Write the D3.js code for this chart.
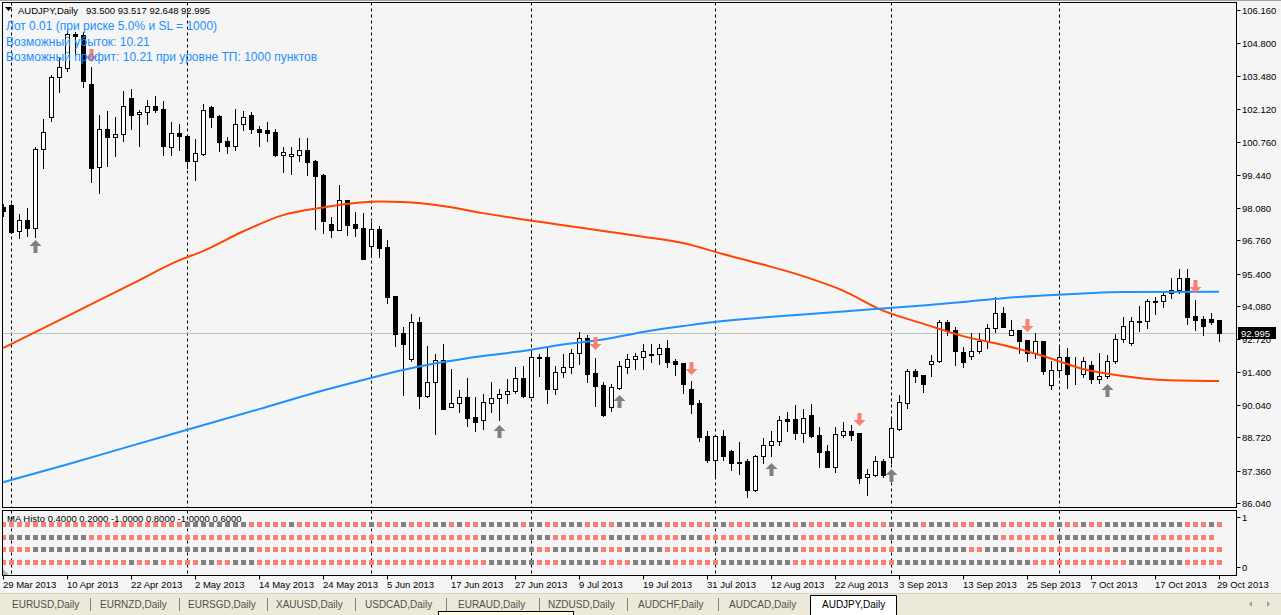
<!DOCTYPE html>
<html>
<head>
<meta charset="utf-8">
<script src="https://cdn.jsdelivr.net/npm/d3@7"></script>
<style>
    body { margin: 0; background: #f5f5f5; overflow: hidden; }
    svg text { font-family: "Liberation Sans", Arial, sans-serif; }
    .tahoma { font-size: 9.5px; }
</style>
</head>
<body>
<svg id="chart" width="1281" height="615"></svg>
<script>
// ---- data ----
const symbolTitle = "AUDJPY,Daily";
const lastQuote = "93.500 93.517 92.648 92.995";
const infoLines = [
    "Лот 0.01 (при риске 5.0% и SL = 1000)",
    "Возможный убыток: 10.21",
    "Возможный профит: 10.21 при уровне ТП: 1000 пунктов"
];

// one bar per trading day, 29 Mar 2013 .. 29 Oct 2013
const openPrices = [98.12,98.20,97.13,97.57,97.27,100.50,101.80,103.41,103.81,105.18,105.14,103.14,99.74,101.29,100.99,101.09,102.56,101.90,101.98,102.23,
    102.11,100.56,101.13,101.00,100.01,100.29,102.20,101.83,100.81,100.62,101.49,101.87,101.30,101.27,101.18,100.25,100.19,100.25,100.44,100.00,
    99.43,97.43,97.19,98.41,97.44,97.27,96.54,97.21,96.49,94.49,92.98,91.93,93.41,90.42,90.96,91.86,89.97,90.11,90.36,89.54,
    89.41,90.11,90.31,90.48,90.60,91.13,90.35,91.97,92.00,90.70,91.37,91.58,92.15,92.77,91.34,90.85,89.97,90.74,91.60,91.90,
    92.01,92.12,92.11,92.36,91.83,91.75,90.69,90.12,88.77,87.80,88.76,88.16,87.72,87.75,86.58,87.94,88.42,88.56,89.45,89.45,
    88.91,89.62,88.80,88.16,87.52,88.83,88.98,88.88,87.09,87.19,87.74,87.93,89.07,90.13,91.43,91.25,91.71,91.82,93.41,93.09,
    92.19,92.03,92.24,92.65,93.17,93.78,92.88,93.12,92.68,92.15,92.64,90.85,91.45,92.01,91.59,91.29,91.67,91.10,91.22,91.85,
    92.72,92.58,93.44,93.45,94.24,94.27,94.60,94.72,95.21,93.67,93.54,93.54,93.500];
const highPrices = [98.24,98.24,97.83,98.07,100.56,101.70,103.51,104.20,105.34,105.26,105.26,103.82,101.87,102.04,101.79,102.85,102.94,102.06,102.47,102.64,
    102.43,101.59,101.51,101.02,100.89,102.34,102.24,101.87,100.99,102.11,102.04,101.98,101.42,101.59,101.29,100.56,100.58,100.92,100.93,100.05,
    99.47,97.72,99.02,98.41,97.91,97.89,97.51,97.34,96.77,94.49,93.23,93.75,93.63,92.45,92.12,92.51,91.51,90.65,91.15,90.36,
    90.50,90.98,90.69,91.10,91.60,91.63,92.28,92.12,92.39,91.63,92.11,92.31,93.02,92.88,91.94,90.99,90.88,91.83,92.12,92.15,
    92.53,92.53,92.51,92.69,91.90,91.75,91.02,90.23,88.98,88.77,89.02,88.20,88.51,87.85,87.98,88.70,88.98,89.59,89.75,90.03,
    89.86,90.08,89.13,88.40,89.13,89.34,89.22,88.88,87.41,87.96,87.82,89.54,90.45,91.52,91.52,91.25,92.07,93.50,93.50,93.23,
    92.42,92.96,92.96,93.33,94.43,94.02,93.50,93.12,92.68,92.99,92.64,91.83,92.48,92.35,92.01,92.01,91.83,92.15,92.08,92.94,
    93.62,93.64,94.08,94.36,94.46,94.64,95.21,95.61,95.61,94.32,93.67,93.81,93.517];
const lowPrices = [97.75,97.06,96.87,96.95,96.91,99.72,101.64,102.83,103.67,104.32,103.03,99.15,98.70,99.81,100.22,100.82,101.31,100.62,101.49,102.01,
    100.25,100.25,100.46,99.72,99.22,100.25,101.40,100.42,100.34,100.44,101.26,101.15,100.62,100.82,100.22,99.56,99.47,100.00,99.43,97.23,
    97.07,96.91,97.19,96.99,96.95,96.00,96.09,96.09,94.19,92.46,90.46,91.85,89.92,90.38,88.85,89.87,89.97,89.76,89.19,88.99,
    89.07,89.76,89.43,90.13,90.52,90.38,90.35,91.23,90.11,90.47,91.17,91.33,91.70,90.99,90.01,89.59,89.81,90.68,91.36,91.52,
    91.52,91.79,91.71,91.60,91.26,90.52,89.72,88.58,87.72,87.15,87.79,87.38,87.21,86.29,86.54,87.68,87.97,88.41,88.98,88.66,
    88.54,88.72,87.52,87.52,87.32,88.74,88.61,86.84,86.36,87.14,87.11,87.66,89.03,89.90,90.99,90.58,91.22,91.79,92.88,91.67,
    91.60,91.93,92.17,92.35,93.03,93.21,92.88,92.17,91.85,91.97,91.31,90.68,91.17,90.72,90.88,91.19,90.92,90.92,91.15,91.74,
    92.62,92.49,93.06,93.19,93.74,94.05,94.42,94.60,93.36,93.10,92.89,93.36,92.648];
const closePrices = [97.96,97.11,97.57,97.27,100.47,101.18,103.43,103.82,105.20,105.10,103.27,99.72,101.29,100.99,101.09,102.23,101.89,101.98,102.23,102.09,
    100.62,101.13,101.00,100.01,100.31,102.07,101.80,100.78,100.62,101.49,101.78,101.29,101.19,101.15,100.25,100.35,100.27,100.43,99.97,99.40,
    97.56,97.19,98.41,97.40,97.27,96.01,97.21,96.46,94.46,92.93,92.54,93.41,90.42,90.96,91.86,89.87,90.11,90.35,89.52,89.36,
    90.16,90.31,90.49,90.60,91.13,90.42,91.99,92.01,90.70,91.37,91.58,92.15,92.76,91.31,90.83,89.63,90.76,91.63,91.92,92.04,
    92.24,92.10,92.35,91.79,91.72,90.91,90.09,88.74,87.79,88.76,87.97,87.68,87.68,86.58,87.94,88.39,88.56,89.43,89.40,88.91,
    89.50,88.77,88.13,87.52,88.84,88.96,88.81,87.07,87.22,87.74,87.19,89.09,90.15,91.43,91.23,90.88,91.83,93.41,93.07,92.23,
    91.78,92.24,92.65,93.17,93.78,93.21,93.12,92.66,92.15,92.64,91.41,91.45,92.01,91.29,91.57,91.85,91.09,91.22,91.85,92.72,
    93.25,93.45,93.47,94.27,94.27,94.51,94.72,95.21,93.64,93.52,93.27,93.44,92.995];

// moving averages, sampled at bar indices
const redMaBars = [0, 8, 16, 22, 25, 30, 35, 40, 45, 47, 50, 55, 60, 65, 70, 75, 80, 85, 90, 95, 100, 105, 110, 115, 120, 125, 130, 135, 140, 145, 152];
const redMaValues = [92.36, 93.66, 94.96, 95.94, 96.32, 97.12, 97.79, 98.10, 98.31, 98.34, 98.32, 98.16, 97.87, 97.61, 97.38, 97.14, 96.91, 96.65, 96.20, 95.77,
    95.30, 94.71, 93.89, 93.36, 92.85, 92.49, 92.04, 91.51, 91.22, 91.06, 91.02];
const blueMaBars = [0, 8, 16, 24, 32, 40, 45, 50, 55, 60, 65, 70, 75, 80, 85, 90, 95, 100, 105, 110, 115, 120, 125, 130, 135, 140, 152];
const blueMaValues = [86.89, 87.61, 88.37, 89.12, 89.87, 90.63, 91.06, 91.47, 91.79, 92.04, 92.24, 92.51, 92.71, 93.02, 93.26, 93.47, 93.61, 93.73, 93.86, 93.98,
    94.10, 94.24, 94.40, 94.51, 94.59, 94.65, 94.66];

// signal arrows: bar index and price at the arrow tip
const buyArrowBars = [4, 62, 77, 96, 111, 138];
const buyArrowPrices = [96.77, 89.22, 90.45, 87.68, 87.43, 90.90];
const sellArrowBars = [11, 74, 86, 107, 128, 149];
const sellArrowPrices = [104.04, 92.28, 91.26, 89.19, 93.00, 94.60];

const priceTicks = [106.16, 104.80, 103.48, 102.12, 100.76, 99.44, 98.08, 96.76, 95.40, 94.08, 92.72, 91.40, 90.04, 88.72, 87.36, 86.04];
const dateTickLabels = ["29 Mar 2013", "10 Apr 2013", "22 Apr 2013", "2 May 2013", "14 May 2013", "24 May 2013", "5 Jun 2013", "17 Jun 2013",
    "27 Jun 2013", "9 Jul 2013", "19 Jul 2013", "31 Jul 2013", "12 Aug 2013", "22 Aug 2013", "3 Sep 2013", "13 Sep 2013",
    "25 Sep 2013", "7 Oct 2013", "17 Oct 2013", "29 Oct 2013"];

// MA Histo sub-window: r = salmon, g = gray, one char per bar
const histoTitle = "MA Histo 0.4000 0.2000 -1.0000 0.8000 -1.0000 0.6000";
const histoLevels = [0.86, 0.61, 0.36, 0.11];
const histoRows = [
    "rrrrrrrrrrrrrrrrrrrrrrrggggggggrrrrrgrrrrrrrrrgrrrgrrrggrgrrgggggrggrrgggrrrrggggggrrrrrrggrrrgggggrgrrrggrrrrrggggrgggrrrgggrrrrrrrgrrgrrggggggggggrrrgr",
    "rggggggggggrrrrrrrrrrrrrrrrrrrrrrrrrrrrrrrrrrrrrrrrrrrrrrrrrgggggggggrrrrrrrggggrrrrrgggrrrrrrggggggrrrrrrrrrrgggggggggggggggrrrrrrrggggggggggggrrrrrrrr",
    "rrrrggggggggggggggggggggggggggggrrrrrrrrrrrrrrrrrrrrrrrrrrrrgggggggrrggggggrrrgggggrrrrrrgggggggggggrrrrrrrrrrrrgggggggggrrggggrrrrrrrrrrrrgggggggggrrrrr",
    "rrrrrrrrrrgrrrrrgrrgrrrrrggrrgggrrrrrrrrrrrrrrrrrrrrrrrrrrrrrggggggrrrgggggrrrrgggggrrrrrrgggggggggrrrrrrrrrrrrrgggggggggggggggggrrrrrrrrrrrrgggggggrrrrr"
];

const tabNames = ["EURUSD,Daily", "EURNZD,Daily", "EURSGD,Daily", "XAUUSD,Daily", "USDCAD,Daily",
    "EURAUD,Daily", "NZDUSD,Daily", "AUDCHF,Daily", "AUDCAD,Daily", "AUDJPY,Daily"];

// ---- layout ----
const W = 1281, H = 615;
const frameLeft = 2.5, frameRight = 1236.5;
const mainTop = 2.5, mainBottom = 507.5;
const subTop = 510.5, subBottom = 575.5;
const BULL_FILL = "#ffffff", BEAR_FILL = "#000000";
const RED_MA = "#ff4500", BLUE_MA = "#1e90ff";
const SALMON = "#fa8072", GREY = "#808080";

const dates = d3.timeDays(new Date(2013, 2, 29), new Date(2013, 9, 30)).filter(d => d.getDay() % 6 !== 0);
const fmt = d3.timeFormat("%-d %b %Y");

const bars = openPrices.map((o, i) => ({
    i: i, open: o, high: highPrices[i], low: lowPrices[i], close: closePrices[i]
}));

const x = d3.scaleLinear().domain([0, dates.length - 1]).range([3, 1219]);
const y = d3.scaleLinear().domain([86.04, 106.16]).range([503, 10]);
const ySub = d3.scaleLinear().domain([0, 1]).range([567, 517]);
const px = i => Math.round(x(i));
const py = v => Math.round(y(v));

const svg = d3.select("#chart");

svg.append("rect").attr("width", W).attr("height", H).attr("fill", "#f5f5f5");
svg.append("rect").attr("width", W).attr("height", 1).attr("fill", "#a0a0a0");

const defs = svg.append("defs");
defs.append("clipPath").attr("id", "mainClip")
    .append("rect").attr("x", frameLeft).attr("y", mainTop).attr("width", frameRight - frameLeft).attr("height", mainBottom - mainTop);
defs.append("clipPath").attr("id", "subClip")
    .append("rect").attr("x", frameLeft + 0.5).attr("y", subTop).attr("width", frameRight - frameLeft - 0.5).attr("height", subBottom - subTop);

// period separators (first trading day of each month)
const separatorIdx = dates.map((d, i) => i).filter(i => i > 0 && dates[i].getMonth() !== dates[i - 1].getMonth());

const main = svg.append("g").attr("clip-path", "url(#mainClip)");

main.selectAll("line.sep").data(separatorIdx).enter().append("line")
    .attr("x1", i => px(i) + 0.5).attr("x2", i => px(i) + 0.5)
    .attr("y1", mainTop).attr("y2", mainBottom)
    .attr("stroke", "#000").attr("stroke-dasharray", "3,3");

// last close level
const lastClose = closePrices[closePrices.length - 1];
main.append("line")
    .attr("x1", frameLeft).attr("x2", frameRight)
    .attr("y1", py(lastClose) + 0.5).attr("y2", py(lastClose) + 0.5)
    .attr("stroke", "#c0c0c0");

// candles
const candles = main.selectAll("g.candle").data(bars).enter().append("g").attr("class", "candle");
candles.append("line")
    .attr("x1", d => px(d.i) + 0.5).attr("x2", d => px(d.i) + 0.5)
    .attr("y1", d => py(d.high)).attr("y2", d => py(d.low) + 1)
    .attr("stroke", "#000");
candles.append("rect")
    .attr("x", d => px(d.i) - 1.5)
    .attr("y", d => py(Math.max(d.open, d.close)) + 0.5)
    .attr("width", 4)
    .attr("height", d => Math.max(py(Math.min(d.open, d.close)) - py(Math.max(d.open, d.close)), 0))
    .attr("fill", d => d.close >= d.open ? BULL_FILL : BEAR_FILL)
    .attr("stroke", "#000");

// moving averages
const maLine = d3.line().x(d => x(d[0])).y(d => y(d[1])).curve(d3.curveMonotoneX);
main.append("path")
    .datum(redMaBars.map((b, i) => [b, redMaValues[i]]))
    .attr("d", maLine).attr("fill", "none").attr("stroke", RED_MA).attr("stroke-width", 2);
main.append("path")
    .datum(blueMaBars.map((b, i) => [b, blueMaValues[i]]))
    .attr("d", maLine).attr("fill", "none").attr("stroke", BLUE_MA).attr("stroke-width", 2);

// arrows
const upArrow = "M0,0 L6,6 L2,6 L2,13 L-2,13 L-2,6 L-6,6 Z";
const downArrow = "M0,0 L6,-6 L2,-6 L2,-13 L-2,-13 L-2,-6 L-6,-6 Z";
main.selectAll("path.buy").data(buyArrowBars).enter().append("path")
    .attr("d", upArrow)
    .attr("transform", (b, i) => "translate(" + (px(b) + 0.5) + "," + py(buyArrowPrices[i]) + ")")
    .attr("fill", GREY);
main.selectAll("path.sell").data(sellArrowBars).enter().append("path")
    .attr("d", downArrow)
    .attr("transform", (b, i) => "translate(" + (px(b) + 0.5) + "," + py(sellArrowPrices[i]) + ")")
    .attr("fill", SALMON);

// header texts
svg.append("path").attr("d", "M5,7 L12,7 L8.5,11 Z").attr("fill", "#000");
svg.append("text").attr("class", "tahoma").attr("x", 18).attr("y", 14).text(symbolTitle);
svg.append("text").attr("class", "tahoma").attr("x", 86).attr("y", 14).text(lastQuote);
svg.selectAll("text.info").data(infoLines).enter().append("text")
    .attr("x", 6).attr("y", (d, i) => 30 + i * 15.5)
    .attr("font-size", 12).attr("fill", BLUE_MA).text(d => d);

// sub window
const sub = svg.append("g").attr("clip-path", "url(#subClip)");
sub.selectAll("line.sep").data(separatorIdx).enter().append("line")
    .attr("x1", i => px(i) + 0.5).attr("x2", i => px(i) + 0.5)
    .attr("y1", subTop).attr("y2", subBottom)
    .attr("stroke", "#000").attr("stroke-dasharray", "3,3");
histoRows.forEach((row, r) => {
    sub.selectAll("rect.h" + r).data(row.split("")).enter().append("rect")
        .attr("x", (c, i) => px(i) - 2)
        .attr("y", Math.round(ySub(histoLevels[r])) - 2)
        .attr("width", 5).attr("height", 5)
        .attr("fill", c => c === "r" ? SALMON : GREY);
});
svg.append("text").attr("class", "tahoma").attr("x", 7).attr("y", 522).text(histoTitle);
svg.append("path").attr("d", "M3,569 L3,575 L9,575 Z").attr("fill", "#b0b0b0");

// frames
svg.append("rect").attr("x", frameLeft).attr("y", mainTop).attr("width", frameRight - frameLeft).attr("height", mainBottom - mainTop)
    .attr("fill", "none").attr("stroke", "#000");
svg.append("rect").attr("x", frameLeft).attr("y", subTop).attr("width", frameRight - frameLeft).attr("height", subBottom - subTop)
    .attr("fill", "none").attr("stroke", "#000");

// price axis
const yAxis = svg.append("g");
priceTicks.forEach(t => {
    yAxis.append("line").attr("x1", frameRight).attr("x2", frameRight + 4)
        .attr("y1", py(t) + 0.5).attr("y2", py(t) + 0.5).attr("stroke", "#000");
    yAxis.append("text").attr("class", "tahoma").attr("x", 1242).attr("y", py(t) + 4).text(t.toFixed(3));
});
// current price marker sits on top of the nearest level label
yAxis.append("rect").attr("x", 1238).attr("y", py(lastClose) - 6).attr("width", 38).attr("height", 12).attr("fill", "#000");
yAxis.append("text").attr("class", "tahoma").attr("x", 1241).attr("y", py(lastClose) + 4)
    .attr("fill", "#fff").text(lastClose.toFixed(3));

[1, 0].forEach(v => {
    svg.append("line").attr("x1", frameRight).attr("x2", frameRight + 4)
        .attr("y1", Math.round(ySub(v)) + 0.5).attr("y2", Math.round(ySub(v)) + 0.5).attr("stroke", "#000");
    svg.append("text").attr("class", "tahoma").attr("x", 1242).attr("y", Math.round(ySub(v)) + 4).text(v);
});

// date axis
const xAxis = svg.append("g");
dateTickLabels.forEach(lbl => {
    const i = dates.findIndex(d => fmt(d) === lbl);
    if (i < 0) return;
    const tx = px(i) + 0.5;
    xAxis.append("line").attr("x1", tx).attr("x2", tx).attr("y1", subBottom).attr("y2", subBottom + 4).attr("stroke", "#000");
    xAxis.append("text").attr("class", "tahoma")
        .attr("x", Math.min(tx - 0.5, 1217)).attr("y", 588).text(lbl);
});

// symbol tabs
const tabs = svg.append("g");
tabs.append("rect").attr("x", 0).attr("y", 593).attr("width", W).attr("height", H - 593).attr("fill", "#ece9d8");
tabs.append("line").attr("x1", 0).attr("x2", W).attr("y1", 593.5).attr("y2", 593.5).attr("stroke", "#d4d0c8");
const tabX = [12, 100, 188, 276, 365, 458, 548, 638, 729, 822];
const tabSeps = [90, 179, 267, 355, 446, 539, 627, 718];
tabSeps.forEach(s => tabs.append("line").attr("x1", s + 0.5).attr("x2", s + 0.5).attr("y1", 598).attr("y2", 611).attr("stroke", "#808080"));
tabs.append("path").attr("d", "M810.5,615 L810.5,595.5 L896.5,595.5 L896.5,615").attr("fill", "#fff").attr("stroke", "#000");
tabNames.forEach((t, i) => {
    tabs.append("text").attr("x", tabX[i]).attr("y", 608).attr("font-size", 10)
        .attr("fill", i === tabNames.length - 1 ? "#000" : "#505050").text(t);
});
tabs.append("rect").attr("x", 438.5).attr("y", 611.5).attr("width", 135).attr("height", 8).attr("fill", "#ffffe1").attr("stroke", "#000");
tabs.append("path").attr("d", "M1252,601 L1249,604 L1252,607 Z").attr("fill", "#a0a0a0");
tabs.append("path").attr("d", "M1267,601 L1270,604 L1267,607 Z").attr("fill", "#a0a0a0");
</script>
</body>
</html>
